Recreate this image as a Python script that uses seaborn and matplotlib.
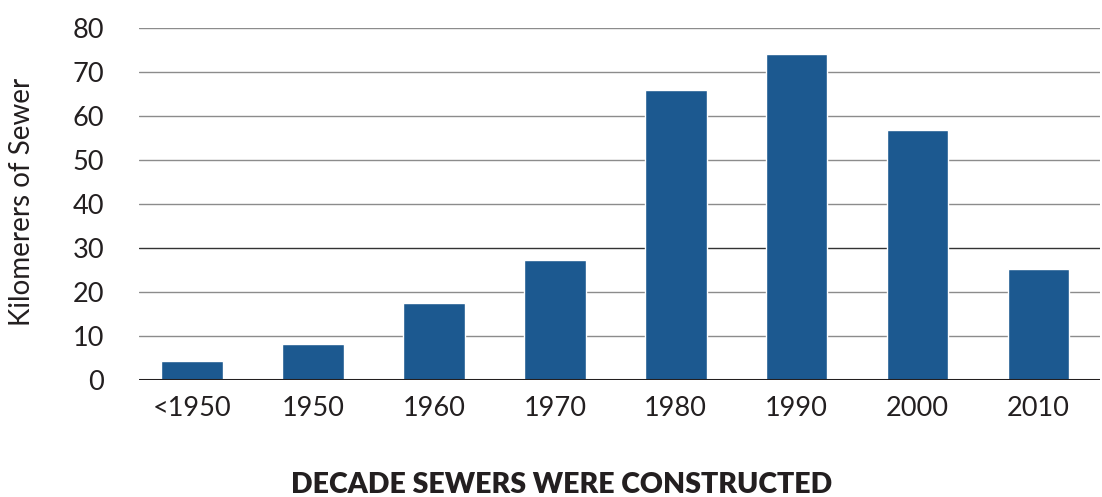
import matplotlib
matplotlib.use("Agg")
import matplotlib.pyplot as plt
import pandas as pd
import seaborn as sns

decades = ["<1950", "1950", "1960", "1970", "1980", "1990", "2000", "2010"]
km_sewer = [4.1, 8.1, 17.3, 27.1, 66.0, 74.1, 56.7, 25.2]
y_ticks = [0, 10, 20, 30, 40, 50, 60, 70, 80]

BAR_COLOR = "#1c5990"
GRID_COLOR = "#8c8c8c"
TEXT_COLOR = "#231f20"

sns.set_theme(style="white")
plt.rcParams["font.family"] = ["Lato", "DejaVu Sans"]

df = pd.DataFrame({"decade": decades, "km": km_sewer})

fig = plt.figure(figsize=(11.02, 4.97), dpi=100)
ax = fig.add_axes([139 / 1102, 1 - 379.5 / 497, 961 / 1102, (379.5 - 28) / 497])

sns.barplot(data=df, x="decade", y="km", color=BAR_COLOR, width=0.51,
            saturation=1, ax=ax, zorder=3)

ax.set_ylim(0, 80)
ax.set_xlim(-0.44, 7.51)
ax.set_yticks(y_ticks)
# horizontal rules; the 30 line is darker in the original
for y in y_ticks[1:]:
    ax.axhline(y, color="#333333" if y == 30 else GRID_COLOR,
               lw=1.0, zorder=1)
ax.axhline(0, color=TEXT_COLOR, lw=2.2, zorder=4)

for s in ax.spines.values():
    s.set_visible(False)

ax.tick_params(axis="both", length=0, labelsize=19.5, colors=TEXT_COLOR)
ax.tick_params(axis="y", pad=25)
ax.tick_params(axis="x", pad=12)

ax.set_xlabel("")
ax.set_ylabel("Kilomerers of Sewer", fontsize=20, color=TEXT_COLOR)
ax.yaxis.set_label_coords(-0.108, 0.505)

fig.text(562 / 1102, 1 - 485 / 497, "DECADE SEWERS WERE CONSTRUCTED",
         ha="center", va="center", fontsize=20.5, fontweight="heavy",
         color=TEXT_COLOR)

fig.savefig("out.png", dpi=100)
